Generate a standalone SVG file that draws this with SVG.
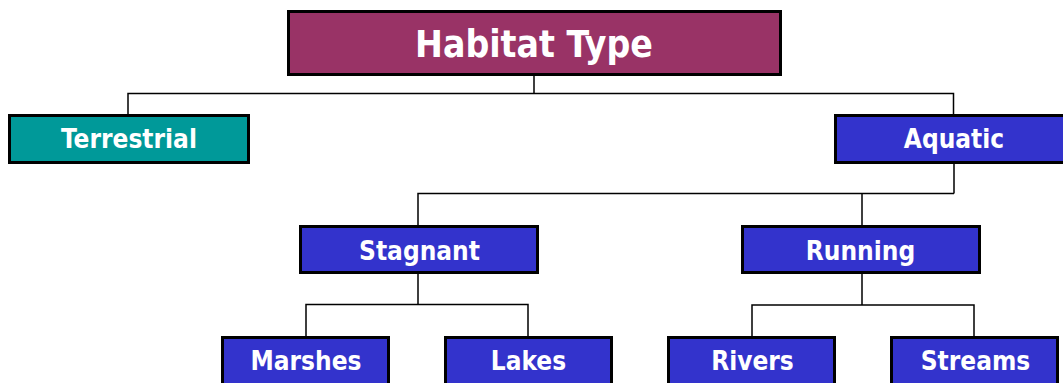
<svg xmlns="http://www.w3.org/2000/svg" width="1063" height="383" viewBox="0 0 1063 383">
  <style>
    .box { stroke: #000; stroke-width: 3; }
    .root { fill: #993366; }
    .land { fill: #009999; }
    .water { fill: #3333CC; }
    .lbl { font-family: "DejaVu Sans Condensed", "DejaVu Sans", Tahoma, sans-serif; font-stretch: condensed; font-weight: bold; fill: #fff; text-anchor: middle; font-size: 26px; }
    .title { font-size: 37px; }
    .wire { fill: none; stroke: #000; stroke-width: 1.5; }
  </style>
  <rect width="1063" height="383" fill="#fff"/>

  <g id="connectors">
    <path class="wire" d="M534,76 V93.5 M128,114 V93.5 H953.5 V114"/>
    <path class="wire" d="M954,163 V193.5 M418,225 V193.5 H954 M862,193.5 V225"/>
    <path class="wire" d="M418,274 V304.5 M306,336 V304.5 H528 V336"/>
    <path class="wire" d="M862,274 V305 M752,336 V305 H974 V336"/>
  </g>

  <g id="habitat-type">
    <rect class="box root" x="288.5" y="11.5" width="492" height="63"/>
    <text class="lbl title" x="534" y="57">Habitat Type</text>
  </g>
  <g id="terrestrial">
    <rect class="box land" x="9.5" y="115.5" width="239" height="47"/>
    <text class="lbl" x="129" y="148">Terrestrial</text>
  </g>
  <g id="aquatic">
    <rect class="box water" x="835.5" y="115.5" width="239" height="47"/>
    <text class="lbl" x="954" y="148">Aquatic</text>
  </g>
  <g id="stagnant">
    <rect class="box water" x="300.5" y="226.5" width="237" height="46"/>
    <text class="lbl" x="419.5" y="260">Stagnant</text>
  </g>
  <g id="running">
    <rect class="box water" x="742.5" y="226.5" width="237" height="46"/>
    <text class="lbl" x="860.5" y="260">Running</text>
  </g>
  <g id="marshes">
    <rect class="box water" x="222.5" y="337.5" width="166" height="48"/>
    <text class="lbl" x="306" y="370">Marshes</text>
  </g>
  <g id="lakes">
    <rect class="box water" x="445.5" y="337.5" width="166" height="48"/>
    <text class="lbl" x="528.5" y="370">Lakes</text>
  </g>
  <g id="rivers">
    <rect class="box water" x="668.5" y="337.5" width="166" height="48"/>
    <text class="lbl" x="752.5" y="370">Rivers</text>
  </g>
  <g id="streams">
    <rect class="box water" x="891.5" y="337.5" width="166" height="48"/>
    <text class="lbl" x="975.5" y="370">Streams</text>
  </g>
</svg>
